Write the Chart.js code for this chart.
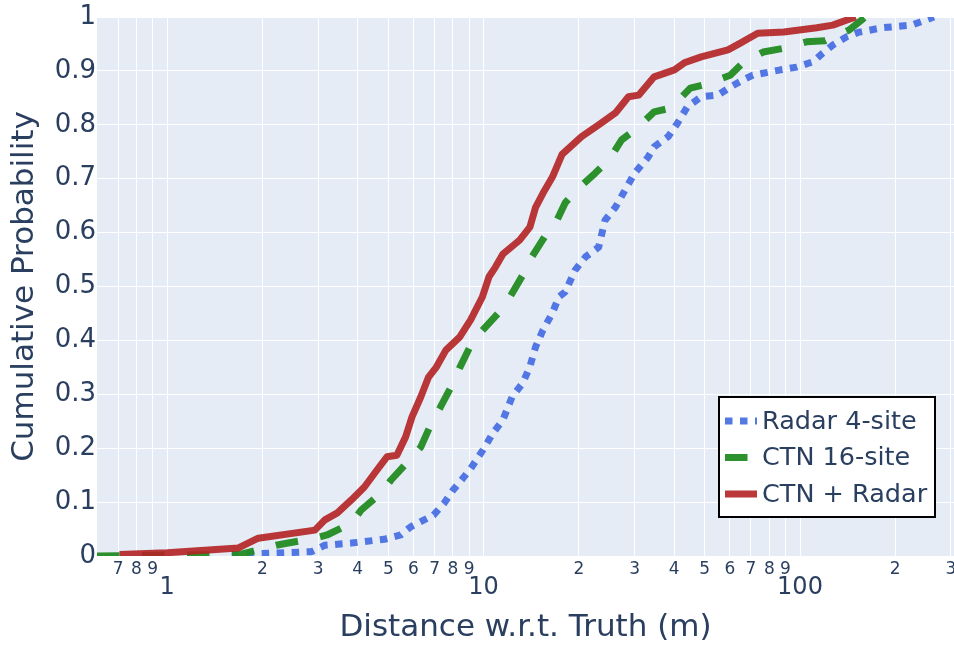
<!DOCTYPE html>
<html>
<head>
<meta charset="utf-8">
<script src="https://cdn.jsdelivr.net/npm/chart.js@4.4.1/dist/chart.umd.min.js"></script>
<style>
  html, body { margin: 0; padding: 0; background: #fff; }
  #wrap { width: 954px; height: 647px; }
</style>
</head>
<body>
<div id="wrap"><canvas id="cdfChart" width="954" height="647"></canvas></div>
<script>
// Values (distance in m, cumulative probability)
const radarX = [1.6, 1.86, 2.86, 3.15, 3.82, 4.85, 5.47, 5.88, 6.95, 7.5, 8.0, 9.05, 9.96, 10.7, 11.5, 12.3, 13.3, 14.0, 14.6, 15.4, 16.5, 17.3, 18.1, 19.5, 21, 23.1, 24.2, 26.1, 28, 30, 33.1, 34.6, 38.3, 41, 44, 48.7, 55, 60.2, 66, 71, 86.8, 97.6, 110, 118, 127, 140, 154, 182, 226, 248, 265];
const radarY = [0, 0.004, 0.008, 0.02, 0.024, 0.031, 0.039, 0.054, 0.076, 0.098, 0.122, 0.16, 0.197, 0.228, 0.252, 0.295, 0.321, 0.351, 0.388, 0.419, 0.451, 0.481, 0.49, 0.531, 0.555, 0.573, 0.623, 0.647, 0.679, 0.71, 0.74, 0.759, 0.778, 0.803, 0.833, 0.852, 0.855, 0.87, 0.883, 0.892, 0.902, 0.907, 0.917, 0.933, 0.948, 0.963, 0.972, 0.98, 0.985, 0.994, 1.0];

const ctnX = [0.6, 1.7, 2.21, 2.41, 2.93, 3.2, 3.82, 4.1, 4.74, 5.1, 5.7, 6.33, 6.85, 7.3, 7.9, 8.4, 9.05, 9.75, 11.1, 12.1, 13.6, 14.0, 15.7, 16.9, 18.1, 20, 22.5, 24.9, 27.3, 30, 34.6, 39, 45, 49.6, 60.2, 66, 76.5, 88.9, 105, 120, 143, 161];
const ctnY = [0, 0.003, 0.02, 0.024, 0.033, 0.039, 0.061, 0.085, 0.117, 0.141, 0.172, 0.202, 0.247, 0.276, 0.314, 0.349, 0.388, 0.414, 0.45, 0.48, 0.531, 0.549, 0.595, 0.618, 0.655, 0.683, 0.71, 0.735, 0.772, 0.79, 0.824, 0.831, 0.868, 0.874, 0.892, 0.915, 0.935, 0.942, 0.954, 0.956, 0.976, 1.0];

const fusedX = [0.707, 1.0, 1.68, 1.94, 2.93, 3.15, 3.45, 3.82, 4.2, 4.61, 4.95, 5.32, 5.67, 5.94, 6.33, 6.7, 7.1, 7.6, 8.4, 9.1, 9.9, 10.4, 10.9, 11.5, 13.0, 14.0, 14.6, 15.4, 16.5, 17.7, 20.4, 23.1, 26.1, 28.7, 30.9, 34.6, 40.1, 43.1, 48.7, 59.2, 65, 73.5, 88.9, 113, 127, 140, 150];
const fusedY = [0.003, 0.006, 0.015, 0.033, 0.048, 0.067, 0.08, 0.104, 0.128, 0.16, 0.184, 0.187, 0.221, 0.258, 0.295, 0.332, 0.351, 0.382, 0.406, 0.438, 0.48, 0.518, 0.536, 0.56, 0.586, 0.61, 0.647, 0.673, 0.703, 0.745, 0.778, 0.8, 0.822, 0.852, 0.855, 0.889, 0.902, 0.915, 0.926, 0.939, 0.952, 0.97, 0.972, 0.98, 0.985, 0.994, 1.0];

// Axis ticks and labels
const xGridTicks = [0.7, 0.8, 0.9, 1, 2, 3, 4, 5, 6, 7, 8, 9, 10, 20, 30, 40, 50, 60, 70, 80, 90, 100, 200, 300];
const xMinorLabels = ["7", "8", "9", "", "2", "3", "4", "5", "6", "7", "8", "9", "", "2", "3", "4", "5", "6", "7", "8", "9", "", "2", "3"];
const xMajorTicks = [1, 10, 100];
const xMajorLabels = ["1", "10", "100"];
const yTicks = [0, 0.1, 0.2, 0.3, 0.4, 0.5, 0.6, 0.7, 0.8, 0.9, 1];
const yLabels = ["0", "0.1", "0.2", "0.3", "0.4", "0.5", "0.6", "0.7", "0.8", "0.9", "1"];

const X_MIN = 0.635;
const X_MAX = 306.7;
const TEXT = "#2a3f5f";
const FONT = '"DejaVu Sans", Verdana, sans-serif';

const toPoints = (xs, ys) => xs.map((x, i) => ({ x, y: ys[i] }));
const isMajor = (v) => xMajorTicks.includes(v);

// Plot area background
const plotBackground = {
  id: "plotBackground",
  beforeDraw(chart) {
    const { ctx, chartArea: { left, top, width, height } } = chart;
    ctx.save();
    ctx.fillStyle = "#E5ECF6";
    ctx.fillRect(left, top, width, height);
    ctx.restore();
  },
};

// Boxed legend inside the plot, lower right
const boxLegend = {
  id: "boxLegend",
  afterDraw(chart) {
    const ctx = chart.ctx;
    ctx.save();
    ctx.fillStyle = "#fff";
    ctx.fillRect(719, 397, 216, 120);
    ctx.strokeStyle = "#000";
    ctx.lineWidth = 2;
    ctx.strokeRect(719, 397, 216, 120);
    chart.data.datasets.forEach((ds, i) => {
      const cy = 421 + i * 36.5;
      ctx.beginPath();
      ctx.setLineDash(ds.borderDash || []);
      ctx.strokeStyle = ds.borderColor;
      ctx.lineWidth = ds.borderWidth;
      ctx.moveTo(725, cy);
      ctx.lineTo(757, cy);
      ctx.stroke();
      ctx.setLineDash([]);
      ctx.fillStyle = TEXT;
      ctx.font = "25.5px " + FONT;
      ctx.textBaseline = "middle";
      ctx.fillText(ds.label, 762, cy + 1);
    });
    ctx.restore();
  },
};

const ctx = document.getElementById("cdfChart").getContext("2d");
new Chart(ctx, {
  type: "line",
  data: {
    datasets: [
      {
        label: "Radar 4-site",
        data: toPoints(radarX, radarY),
        borderColor: "rgba(65, 105, 225, 0.9)",
        borderWidth: 7,
        borderDash: [7.5, 7.5],
        order: 2,
      },
      {
        label: "CTN 16-site",
        data: toPoints(ctnX, ctnY),
        borderColor: "rgba(34, 139, 34, 0.95)",
        borderWidth: 7,
        borderDash: [22.5, 22.5],
        order: 1,
      },
      {
        label: "CTN + Radar",
        data: toPoints(fusedX, fusedY),
        borderColor: "rgba(178, 34, 34, 0.9)",
        borderWidth: 7,
        order: 0,
      },
    ],
  },
  options: {
    responsive: false,
    animation: false,
    devicePixelRatio: 1,
    layout: { padding: { top: 17, left: 0, right: 0, bottom: 0 } },
    elements: {
      line: { tension: 0, fill: false, borderJoinStyle: "round" },
      point: { radius: 0, hoverRadius: 0 },
    },
    datasets: { line: { clip: 0 } },
    plugins: {
      legend: { display: false },
      tooltip: { enabled: false },
    },
    scales: {
      x: {
        type: "logarithmic",
        position: "bottom",
        min: X_MIN,
        max: X_MAX,
        afterBuildTicks: (s) => { s.ticks = xGridTicks.map((v) => ({ value: v })); },
        afterFit: (s) => { s.height = 91; s.paddingLeft = 0; s.paddingRight = 0; },
        ticks: {
          autoSkip: false,
          maxRotation: 0,
          minRotation: 0,
          padding: 3,
          color: TEXT,
          // minor digits small on the first row, decades larger on a second row
          font: (c) => (c.tick && isMajor(c.tick.value)
            ? { family: FONT, size: 24, lineHeight: 0.8 }
            : { family: FONT, size: 17, lineHeight: 1.2 }),
          callback: (v, i) => (isMajor(v) ? ["", xMajorLabels[xMajorTicks.indexOf(v)]] : xMinorLabels[i]),
        },
        grid: { color: "#fff", lineWidth: 1, drawTicks: false },
        border: { display: false },
        title: {
          display: true,
          text: "Distance w.r.t. Truth (m)",
          color: TEXT,
          font: { family: FONT, size: 31 },
          padding: { top: 0, bottom: 0 },
        },
      },
      y: {
        min: 0,
        max: 1,
        afterBuildTicks: (s) => { s.ticks = yTicks.map((v) => ({ value: v })); },
        afterFit: (s) => { s.width = 97; s.paddingTop = 0; s.paddingBottom = 0; },
        ticks: {
          padding: 1,
          color: TEXT,
          font: { family: FONT, size: 26 },
          callback: (v, i) => yLabels[i],
        },
        grid: { color: "#fff", lineWidth: 1, drawTicks: false },
        border: { display: false },
        title: {
          display: true,
          text: "Cumulative Probability",
          color: TEXT,
          font: { family: FONT, size: 31 },
          padding: { top: 6, bottom: 0 },
        },
      },
    },
  },
  plugins: [plotBackground, boxLegend],
});
</script>
</body>
</html>
